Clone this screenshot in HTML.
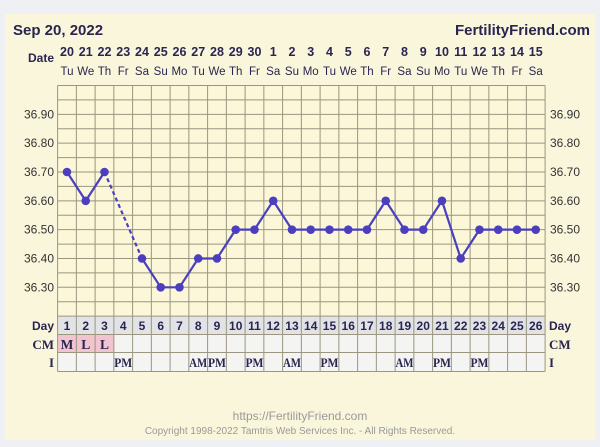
<!DOCTYPE html><html><head><style>body{margin:0;background:#eef0f3}svg{display:block}</style></head><body>
<svg width="600" height="447" xmlns="http://www.w3.org/2000/svg" font-family="Liberation Sans, Arial, sans-serif">
<rect x="0" y="0" width="600" height="447" fill="#eef0f3"/>
<rect x="5" y="14" width="590" height="426" fill="#faf6dc"/>
<text x="13" y="35" font-size="15" font-weight="bold" fill="#2a2550">Sep 20, 2022</text>
<text x="590" y="35" font-size="15" font-weight="bold" fill="#2a2550" text-anchor="end">FertilityFriend.com</text>
<text x="54" y="62" font-size="12" font-weight="bold" fill="#2a2550" text-anchor="end">Date</text>
<g id="g"></g>
<text x="300" y="420" font-size="12" fill="#999" text-anchor="middle">https://FertilityFriend.com</text>
<text x="300" y="434" font-size="10" fill="#999" text-anchor="middle">Copyright 1998-2022 Tamtris Web Services Inc. - All Rights Reserved.</text>
</svg>
<script>
var g=document.getElementById('g'),s='';
var X0=57.6,W=18.75,Y0=85.5,PX=288.3;
function y(t){return Y0+(37.0-t)*PX;}
s+='<rect x="'+X0+'" y="'+Y0+'" width="'+(26*W)+'" height="'+(316.5-Y0)+'" fill="#fbf7d8"/>';
s+='<rect x="'+X0+'" y="316.5" width="'+(26*W)+'" height="18" fill="#e2e3e6"/>';
s+='<rect x="'+X0+'" y="334.5" width="'+(26*W)+'" height="37" fill="#f4f4f2"/>';
s+='<rect x="'+X0+'" y="334.5" width="'+(3*W)+'" height="18" fill="#f2c4d0"/>';
for(var i=0;i<=16;i++){var yy=Y0+i*PX*0.05;s+='<line x1="'+X0+'" x2="'+(X0+26*W)+'" y1="'+yy+'" y2="'+yy+'" stroke="#9a9680" stroke-width="1"/>';}
[334.5,352.5,371.5].forEach(function(yy){s+='<line x1="'+X0+'" x2="'+(X0+26*W)+'" y1="'+yy+'" y2="'+yy+'" stroke="#9a9680"/>';});
for(var i=0;i<=26;i++){var xx=X0+i*W;s+='<line x1="'+xx+'" x2="'+xx+'" y1="'+Y0+'" y2="371.5" stroke="#9a9680"/>';}
var dates=[20,21,22,23,24,25,26,27,28,29,30,1,2,3,4,5,6,7,8,9,10,11,12,13,14,15];
var dw=['Tu','We','Th','Fr','Sa','Su','Mo'];
for(var i=0;i<26;i++){var cx=X0+(i+.5)*W;
s+='<text x="'+cx+'" y="56" font-size="12.5" font-weight="bold" fill="#2a2550" text-anchor="middle">'+dates[i]+'</text>';
s+='<text x="'+cx+'" y="75" font-size="11.5" fill="#2a2550" text-anchor="middle">'+dw[i%7]+'</text>';
s+='<text x="'+cx+'" y="330" font-size="12" font-weight="bold" fill="#2a2550" text-anchor="middle">'+(i+1)+'</text>';}
['M','L','L'].forEach(function(c,i){s+='<text x="'+(X0+(i+.5)*W)+'" y="349" font-size="13.5" font-weight="bold" font-family="Liberation Serif,serif" fill="#2a2550" text-anchor="middle">'+c+'</text>';});
var I={4:'PM',8:'AM',9:'PM',11:'PM',13:'AM',15:'PM',19:'AM',21:'PM',23:'PM'};
for(var d in I){s+='<text x="'+(X0+(d-.5)*W)+'" y="367" font-size="12.5" font-weight="bold" font-family="Liberation Serif,serif" fill="#2a2550" text-anchor="middle" textLength="18" lengthAdjust="spacingAndGlyphs">'+I[d]+'</text>';}
s+='<text x="54" y="330" font-size="12" font-weight="bold" fill="#2a2550" text-anchor="end">Day</text>';
s+='<text x="54" y="349" font-size="13" font-weight="bold" font-family="Liberation Serif,serif" fill="#2a2550" text-anchor="end">CM</text>';
s+='<text x="54" y="367" font-size="13" font-weight="bold" font-family="Liberation Serif,serif" fill="#2a2550" text-anchor="end">I</text>';
s+='<text x="549" y="330" font-size="12" font-weight="bold" fill="#2a2550">Day</text>';
s+='<text x="549" y="349" font-size="13" font-weight="bold" font-family="Liberation Serif,serif" fill="#2a2550">CM</text>';
s+='<text x="549" y="367" font-size="13" font-weight="bold" font-family="Liberation Serif,serif" fill="#2a2550">I</text>';
for(var t=36.3;t<36.95;t+=0.1){var yy=y(t)+4;s+='<text x="54" y="'+yy+'" font-size="12" fill="#333" text-anchor="end">'+t.toFixed(2)+'</text><text x="550" y="'+yy+'" font-size="12" fill="#333">'+t.toFixed(2)+'</text>';}
var v=[36.7,36.6,36.7,null,36.4,36.3,36.3,36.4,36.4,36.5,36.5,36.6,36.5,36.5,36.5,36.5,36.5,36.6,36.5,36.5,36.6,36.4,36.5,36.5,36.5,36.5];
function px(i){return X0+(i+.5)*W;}
s+='<polyline points="'+px(0)+','+y(v[0])+' '+px(1)+','+y(v[1])+' '+px(2)+','+y(v[2])+'" fill="none" stroke="#4b3fbf" stroke-width="2.2"/>';
s+='<line x1="'+px(2)+'" y1="'+y(36.7)+'" x2="'+px(4)+'" y2="'+y(36.4)+'" stroke="#4b3fbf" stroke-width="2.2" stroke-dasharray="4,3"/>';
var p=[];for(var i=4;i<26;i++)p.push(px(i)+','+y(v[i]));
s+='<polyline points="'+p.join(' ')+'" fill="none" stroke="#4b3fbf" stroke-width="2.2"/>';
for(var i=0;i<26;i++)if(v[i]!=null)s+='<circle cx="'+px(i)+'" cy="'+y(v[i])+'" r="4.3" fill="#4b3fbf"/>';
g.innerHTML=s;
</script></body></html>
